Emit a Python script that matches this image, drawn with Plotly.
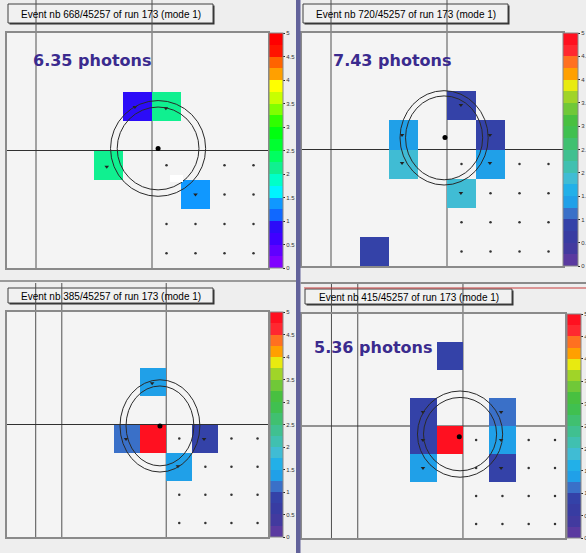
import plotly.graph_objects as go

W, H = 586, 553

# ---------------- data ----------------
titles = ["Event nb 668/45257 of run 173 (mode 1)",
          "Event nb 720/45257 of run 173 (mode 1)",
          "Event nb 385/45257 of run 173 (mode 1)",
          "Event nb 415/45257 of run 173 (mode 1)"]
photon_labels = ["6.35 photons", "7.43 photons", None, "5.36 photons"]

n_cols = [9, 9, 10, 10]
N_ROWS = 8

# hit pads: column, row (from top), signal
p1_cell_col = [4, 5, 3, 6]
p1_cell_row = [2, 2, 4, 5]
p1_cell_val = [0.85, 2.2, 2.2, 1.4]

p2_cell_col = [5, 3, 3, 6, 6, 5, 2]
p2_cell_row = [2, 3, 4, 3, 4, 5, 7]
p2_cell_val = [0.85, 1.4, 1.8, 0.9, 1.4, 1.8, 0.85]

p3_cell_col = [5, 4, 5, 7, 6]
p3_cell_row = [2, 4, 4, 4, 5]
p3_cell_val = [1.4, 1.1, 4.9, 0.85, 1.4]

p4_cell_col = [5, 4, 4, 4, 5, 7, 7, 7]
p4_cell_row = [1, 3, 4, 5, 4, 3, 4, 5]
p4_cell_val = [0.85, 0.85, 0.85, 1.4, 4.9, 1.1, 1.4, 0.85]

# reconstructed photon hits (small markers inside the pads)
p1_hit_x = [4.41, 5.48, 3.44, 6.5]
p1_hit_y = [2.52, 2.56, 4.55, 5.5]
p2_hit_x = [5.48, 3.45, 3.45, 6.48, 6.48, 5.48]
p2_hit_y = [2.47, 3.5, 4.46, 3.5, 4.46, 5.49]
p3_hit_x = [5.46, 4.46, 7.45, 6.45]
p3_hit_y = [2.53, 4.52, 4.52, 5.48]
p4_hit_x = [4.48, 4.48, 4.48, 7.45, 7.45, 7.45]
p4_hit_y = [3.5, 4.5, 5.5, 3.5, 4.5, 5.5]

# empty-pad dots
p1_dot_x = [5.5, 7.5, 8.5, 7.5, 8.5, 5.5, 6.5, 7.5, 8.5, 5.5, 6.5, 7.5, 8.5]
p1_dot_y = [4.5, 4.5, 4.5, 5.5, 5.5, 6.5, 6.5, 6.5, 6.5, 7.5, 7.5, 7.5, 7.5]
p2_dot_x = [5.5, 7.5, 8.5, 6.5, 7.5, 8.5, 5.5, 6.5, 7.5, 8.5, 5.5, 6.5, 7.5, 8.5]
p2_dot_y = [4.5, 4.5, 4.5, 5.5, 5.5, 5.5, 6.5, 6.5, 6.5, 6.5, 7.5, 7.5, 7.5, 7.5]
p3_dot_x = [6.5, 8.5, 9.5, 7.5, 8.5, 9.5, 6.5, 7.5, 8.5, 9.5, 6.5, 7.5, 8.5, 9.5]
p3_dot_y = [4.5, 4.5, 4.5, 5.5, 5.5, 5.5, 6.5, 6.5, 6.5, 6.5, 7.5, 7.5, 7.5, 7.5]
p4_dot_x = [6.5, 8.5, 9.5, 6.5, 8.5, 9.5, 6.5, 7.5, 8.5, 9.5, 6.5, 7.5, 8.5, 9.5]
p4_dot_y = [4.5, 4.5, 4.5, 5.5, 5.5, 5.5, 6.5, 6.5, 6.5, 6.5, 7.5, 7.5, 7.5, 7.5]

# beam centre and Cherenkov ring (two concentric ellipses)
center_x = [5.21, 4.93, 5.76, 5.86]
center_y = [3.93, 3.59, 4.05, 4.38]
ring_x = [5.21, 4.90, 5.76, 5.89]
ring_y = [3.93, 3.60, 4.05, 4.29]
outer_rx = [1.64, 1.52, 1.53, 1.62]
outer_ry = [1.63, 1.62, 1.64, 1.54]
inner_rx = [1.41, 1.33, 1.30, 1.39]
inner_ry = [1.41, 1.44, 1.42, 1.31]

cb_tickvals = [0, 0.5, 1, 1.5, 2, 2.5, 3, 3.5, 4, 4.5, 5]
cb_ticktext = ["0", "0.5", "1", "1.5", "2", "2.5", "3", "3.5", "4", "4.5", "5"]

bright_palette = ["#8000ff", "#6000ff", "#4000ff", "#2c0cf8", "#1068ff", "#1098ff",
                  "#00f4ff", "#00ffc8", "#10f090", "#00ff60", "#00ff30", "#00ff10",
                  "#30ff00", "#80ff00", "#c8ff00", "#ffff00", "#ffa000", "#ff6400",
                  "#ff1400", "#ff0000"]
muted_palette = ["#5a3aa0", "#423a9f", "#383ca2", "#3442a8", "#3a70c8", "#20a0e8",
                 "#22b0e8", "#40bcd4", "#40c0b0", "#40c090", "#40c070", "#40c050",
                 "#48c040", "#70c838", "#a0d428", "#e8ea10", "#ffa000", "#ff7020",
                 "#ff2830", "#ff1020"]

# ---------------- layout geometry (pixels) ----------------
plot_px = [(7, 268, 33, 268), (302, 563, 33, 266), (7, 268, 312, 537), (302, 565, 314, 538)]
cbar_px = [(269, 14), (563, 15), (270, 13), (567, 14)]
x_ranges = [[0, 9], [0, 9], [-0.1, 9.9], [-0.12, 9.88]]
panel_top = [0, 0, 283, 283]
vlines = [[1, 5], [1, 5], [1, 2, 6], [1, 2, 6]]
hline_row = 4
title_box = [(8, 213, 4, 23), (303, 508, 4, 23), (8, 213, 288, 303), (305, 512, 289, 304)]
photon_pos = [(92, 61), (392, 61), None, (373, 347)]


def px(x):
    return x / W


def py(y):
    return 1 - y / H


def stepscale(colors):
    n = len(colors)
    cs = []
    for i, c in enumerate(colors):
        cs.append([i / n, c])
        cs.append([(i + 1) / n, c])
    return cs


cells = [(p1_cell_col, p1_cell_row, p1_cell_val),
         (p2_cell_col, p2_cell_row, p2_cell_val),
         (p3_cell_col, p3_cell_row, p3_cell_val),
         (p4_cell_col, p4_cell_row, p4_cell_val)]
hits = [(p1_hit_x, p1_hit_y), (p2_hit_x, p2_hit_y), (p3_hit_x, p3_hit_y), (p4_hit_x, p4_hit_y)]
dots = [(p1_dot_x, p1_dot_y), (p2_dot_x, p2_dot_y), (p3_dot_x, p3_dot_y), (p4_dot_x, p4_dot_y)]
palettes = [bright_palette, muted_palette, muted_palette, muted_palette]

fig = go.Figure()
shapes = []
annotations = []

# panel backgrounds of the plot areas
for (l, r, t, b) in plot_px:
    shapes.append(dict(type="rect", xref="paper", yref="paper", layer="below",
                       x0=px(l), x1=px(r), y0=py(b), y1=py(t),
                       fillcolor="#f4f4f4", line=dict(width=0)))

# title boxes
for i, (l, r, t, b) in enumerate(title_box):
    shapes.append(dict(type="rect", xref="paper", yref="paper", layer="below",
                       x0=px(l + 1.5), x1=px(r + 1.5), y0=py(b + 1.5), y1=py(t + 1.5),
                       fillcolor="#303030", line=dict(width=0)))
    shapes.append(dict(type="rect", xref="paper", yref="paper", layer="below",
                       x0=px(l), x1=px(r), y0=py(b), y1=py(t),
                       fillcolor="#f1f1f1", line=dict(color="#404040", width=1)))
    annotations.append(dict(text=titles[i], xref="paper", yref="paper",
                            x=px((l + r) / 2), y=py((t + b) / 2 + 0.5),
                            xanchor="center", yanchor="middle", showarrow=False,
                            font=dict(family="Liberation Sans", size=10, color="#000000")))

for i in range(4):
    n = i + 1
    xa = "x" if n == 1 else f"x{n}"
    ya = "y" if n == 1 else f"y{n}"
    l, r, t, b = plot_px[i]
    nc = n_cols[i]
    z = [[None] * nc for _ in range(N_ROWS)]
    for c, rr, v in zip(*cells[i]):
        z[rr][c] = v
    cbl, cbw = cbar_px[i]
    fig.add_trace(go.Heatmap(
        x=[k + 0.5 for k in range(nc)], y=[k + 0.5 for k in range(N_ROWS)], z=z,
        zmin=0, zmax=5, colorscale=stepscale(palettes[i]), hoverinfo="skip",
        xaxis=xa, yaxis=ya,
        colorbar=dict(x=px(cbl), xanchor="left", xref="paper", xpad=0,
                      y=py(b), yanchor="bottom", yref="paper", ypad=0,
                      len=(b - t) / H, lenmode="fraction",
                      thickness=cbw, thicknessmode="pixels",
                      outlinewidth=1, outlinecolor="#888888",
                      tickvals=cb_tickvals, ticktext=cb_ticktext,
                      ticks="outside", ticklen=2, tickwidth=1, tickcolor="#222222",
                      tickfont=dict(family="Liberation Sans", size=6, color="#333333"))))
    # empty-pad dots
    fig.add_trace(go.Scatter(x=dots[i][0], y=dots[i][1], mode="markers", xaxis=xa, yaxis=ya,
                             marker=dict(size=2.5, color="#333333"), hoverinfo="skip",
                             showlegend=False))
    # photon hits
    fig.add_trace(go.Scatter(x=hits[i][0], y=hits[i][1], mode="markers", xaxis=xa, yaxis=ya,
                             marker=dict(size=4, color="#222222", symbol="triangle-down"),
                             hoverinfo="skip", showlegend=False))
    # beam centre
    fig.add_trace(go.Scatter(x=[center_x[i]], y=[center_y[i]], mode="markers", xaxis=xa, yaxis=ya,
                             marker=dict(size=5, color="#000000"), hoverinfo="skip",
                             showlegend=False))

    dom_x = [px(l), px(r)]
    dom_y = [py(b), py(t)]
    axis_common = dict(showticklabels=False, showgrid=False, zeroline=False, ticks="",
                       showline=True, mirror=True, linecolor="#8a8a8a", linewidth=1.5,
                       fixedrange=True)
    fig.update_layout(**{
        ("xaxis" if n == 1 else f"xaxis{n}"): dict(domain=dom_x, range=x_ranges[i],
                                                  anchor=ya, **axis_common),
        ("yaxis" if n == 1 else f"yaxis{n}"): dict(domain=dom_y, range=[N_ROWS, 0],
                                                  anchor=xa, **axis_common),
    })

    # grid lines of the pad chamber
    for vx in vlines[i]:
        shapes.append(dict(type="line", xref=xa, yref="paper", layer="below",
                           x0=vx, x1=vx, y0=py(b), y1=py(panel_top[i]),
                           line=dict(color="#505050", width=1)))
    shapes.append(dict(type="line", xref=f"{xa} domain", yref=ya, layer="below",
                       x0=0, x1=1, y0=hline_row, y1=hline_row,
                       line=dict(color="#303030", width=1)))
    # Cherenkov ring
    for rx, ry in ((outer_rx[i], outer_ry[i]), (inner_rx[i], inner_ry[i])):
        shapes.append(dict(type="circle", xref=xa, yref=ya, layer="above",
                           x0=ring_x[i] - rx, x1=ring_x[i] + rx,
                           y0=ring_y[i] - ry, y1=ring_y[i] + ry,
                           line=dict(color="#2a2a2a", width=1)))

    if photon_labels[i]:
        ppx, ppy = photon_pos[i]
        annotations.append(dict(text=photon_labels[i], xref="paper", yref="paper",
                                x=px(ppx), y=py(ppy), xanchor="center", yanchor="middle",
                                showarrow=False,
                                font=dict(family="DejaVu Sans", size=16, color="#3b2b8e",
                                          weight="bold")))

# panel separators
shapes.append(dict(type="rect", xref="paper", yref="paper", layer="above",
                   x0=px(296), x1=px(300.5), y0=0, y1=1,
                   fillcolor="#62629a", line=dict(width=0)))
shapes.append(dict(type="line", xref="paper", yref="paper", layer="above",
                   x0=0, x1=px(296), y0=py(281), y1=py(281),
                   line=dict(color="#9a9a9a", width=2)))
shapes.append(dict(type="line", xref="paper", yref="paper", layer="above",
                   x0=px(300.5), x1=1, y0=py(283), y1=py(283),
                   line=dict(color="#8a8a8a", width=2)))
shapes.append(dict(type="line", xref="paper", yref="paper", layer="below",
                   x0=px(304), x1=1, y0=py(288), y1=py(288),
                   line=dict(color="#c83c3c", width=1)))
# small white glitch in first panel
shapes.append(dict(type="rect", xref="paper", yref="paper", layer="above",
                   x0=px(170), x1=px(183), y0=py(182), y1=py(175),
                   fillcolor="#ffffff", line=dict(width=0)))

fig.update_layout(width=W, height=H,
                  margin=dict(l=0, r=0, t=0, b=0, pad=0, autoexpand=False),
                  paper_bgcolor="#eeeeee", plot_bgcolor="rgba(0,0,0,0)",
                  showlegend=False, shapes=shapes, annotations=annotations)

fig.write_html("out.html", config={"displayModeBar": False},
               post_script="document.body.style.margin='0';document.body.style.overflow='hidden';")
